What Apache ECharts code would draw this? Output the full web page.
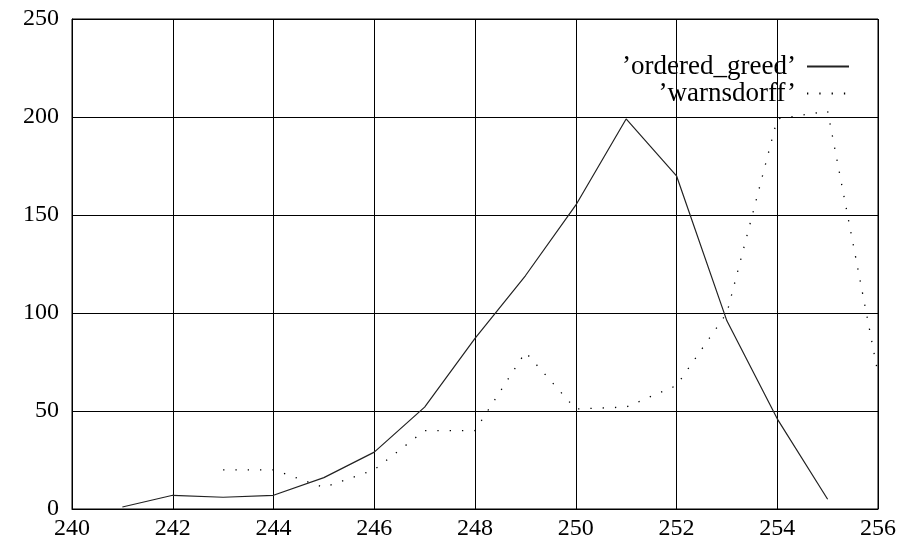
<!DOCTYPE html>
<html>
<head>
<meta charset="utf-8">
<script src="https://cdn.jsdelivr.net/npm/echarts@6/dist/echarts.min.js"></script>
<style>html,body{margin:0;padding:0;background:#fff}#c{width:900px;height:553px}</style>
</head>
<body>
<div id="c"></div>
<script>
const greedX = [241,242,243,244,245,246,247,248,249,250,251,252,253,254,255];
const greedY = [1,7,6,7,16,29,52,87,119,155,199,170,96,46,5];
const warnX = [243,244,245,246,247,248,249,250,251,252,253,254,255,256];
const warnY = [20,20,11,20,40,40,80,51,52,63,100,199,203,69];
const xTicks = [240,242,244,246,248,250,252,254,256];
const yTicks = [0,50,100,150,200,250];
const names = ['\u2019ordered_greed\u2019', '\u2019warnsdorff\u2019'];

const font = 'Liberation Serif';
const chart = echarts.init(document.getElementById('c'), null, {renderer:'canvas'});
chart.setOption({
  animation: false,
  backgroundColor: '#fff',
  grid: {left: 72, right: 22, top: 19, bottom: 44, show: true, borderColor: '#000', borderWidth: 1, containLabel: false},
  legend: {
    orient: 'vertical', right: 50, top: 53, align: 'right', padding: 0,
    itemWidth: 42, itemHeight: 14, itemGap: 0,
    itemStyle: {opacity: 0},
    textStyle: {fontFamily: font, fontSize: 27, lineHeight: 25, color: '#000', padding: [0, 6, 0, 0]},
    data: names
  },
  xAxis: {
    type: 'value', min: xTicks[0], max: xTicks[xTicks.length-1], interval: 2,
    axisLine: {show: true, lineStyle: {color: '#000'}},
    axisTick: {show: false},
    splitLine: {show: true, lineStyle: {color: '#000', width: 1}},
    axisLabel: {fontFamily: font, fontSize: 24, color: '#000', margin: 8}
  },
  yAxis: {
    type: 'value', min: yTicks[0], max: yTicks[yTicks.length-1], interval: 50,
    axisLine: {show: true, lineStyle: {color: '#000'}},
    axisTick: {show: false},
    splitLine: {show: true, lineStyle: {color: '#000', width: 1}},
    axisLabel: {fontFamily: font, fontSize: 24, color: '#000', margin: 13}
  },
  series: [
    {
      name: names[0], type: 'line', symbol: 'none',
      data: greedX.map((x, i) => [x, greedY[i]]),
      lineStyle: {color: '#222', width: 1.2, type: 'solid'},
      itemStyle: {color: '#222'}
    },
    {
      name: names[1], type: 'line', symbol: 'none',
      data: warnX.map((x, i) => [x, warnY[i]]),
      lineStyle: {color: '#000', width: 1.3, type: [1.3, 11]},
      itemStyle: {color: '#000'}
    }
  ]
});
</script>
</body>
</html>
